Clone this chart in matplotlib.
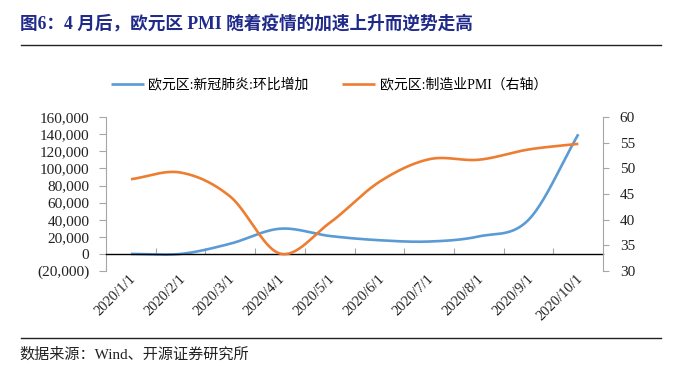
import numpy as np
import matplotlib.pyplot as plt
from matplotlib.lines import Line2D
from matplotlib.ticker import FuncFormatter

plt.rcParams['font.family'] = ['Liberation Serif', 'Noto Sans CJK SC']

# --- data ---
dates = ['2020/1/1', '2020/2/1', '2020/3/1', '2020/4/1', '2020/5/1',
         '2020/6/1', '2020/7/1', '2020/8/1', '2020/9/1', '2020/10/1']
covid_new = [0, 0, 12000, 29500, 21000, 16000, 14500, 20500, 40000, 140000]
pmi = [47.9, 49.2, 44.5, 33.4, 39.4, 47.4, 51.8, 51.7, 53.7, 54.8]

BLUE = '#5B9BD5'
ORANGE = '#ED7D31'
GRAY = '#A6A6A6'
NAVY = '#1F2A8A'


def smooth(values, n=40):
    # Excel-like smoothed line (Catmull-Rom / cubic Hermite)
    y = np.asarray(values, dtype=float)
    m = np.gradient(y)
    xs, ys = [], []
    for i in range(len(y) - 1):
        t = np.linspace(0, 1, n, endpoint=False)
        h00 = 2 * t**3 - 3 * t**2 + 1
        h10 = t**3 - 2 * t**2 + t
        h01 = -2 * t**3 + 3 * t**2
        h11 = t**3 - t**2
        xs.append(i + t)
        ys.append(h00 * y[i] + h10 * m[i] + h01 * y[i + 1] + h11 * m[i + 1])
    xs.append([len(y) - 1])
    ys.append([y[-1]])
    return np.concatenate(xs), np.concatenate(ys)


fig = plt.figure(figsize=(6.8, 3.88), dpi=100)
ax = fig.add_axes([0.156, 0.3015, 0.731, 0.3965])
ax2 = ax.twinx()

x = np.arange(len(dates))
bx, by = smooth(covid_new)
ox, oy = smooth(pmi)
ax.plot(bx, by, color=BLUE, lw=1.9, label='欧元区:新冠肺炎:环比增加', solid_capstyle='butt')
ax2.plot(ox, oy, color=ORANGE, lw=1.9, label='欧元区:制造业PMI（右轴）', solid_capstyle='butt')

# left axis
ax.set_xlim(-0.5, len(dates) - 0.5)
ax.set_ylim(-20000, 160000)
ax.set_yticks(np.arange(-20000, 160001, 20000))
ax.yaxis.set_major_formatter(FuncFormatter(
    lambda v, p: f'({abs(v):,.0f})' if v < 0 else f'{v:,.0f}'))
ax.tick_params(axis='y', direction='out', length=5, color=GRAY,
               labelsize=11, labelcolor='#222222', pad=7)

# right axis
ax2.set_ylim(30, 60)
ax2.set_yticks(np.arange(30, 61, 5))
ax2.tick_params(axis='y', direction='out', length=4, color=GRAY,
                labelsize=11, labelcolor='#222222', pad=8)

for a in (ax, ax2):
    a.spines['top'].set_visible(False)
    a.spines['left'].set_color(GRAY)
    a.spines['right'].set_color(GRAY)
    a.spines['bottom'].set_visible(False)
ax.spines['right'].set_visible(False)
ax2.spines['left'].set_visible(False)

# category axis sits at zero
ax.spines['bottom'].set_visible(True)
ax.spines['bottom'].set_position(('data', 0))
ax.spines['bottom'].set_color('black')
ax.spines['bottom'].set_linewidth(1.0)
ax.set_xticks(x[:-1] + 0.5)
ax.tick_params(axis='x', direction='in', length=4, color=GRAY, labelbottom=False)
for i, d in enumerate(dates):
    ax.text(i - 0.04, -0.005, d, transform=ax.get_xaxis_transform(),
            rotation=45, ha='right', va='top', rotation_mode='anchor',
            fontsize=10.5, color='#222222')

# legend
h1, l1 = ax.get_legend_handles_labels()
h2, l2 = ax2.get_legend_handles_labels()
fig.legend(h1 + h2, l1 + l2, loc='center left', bbox_to_anchor=(0.155, 0.781),
           ncol=2, frameon=False, fontsize=10, handlelength=2.4,
           handletextpad=0.3, columnspacing=2.4, borderaxespad=0)

# title, rules, source
fig.text(0.029, 0.94, '图6：4 月后，欧元区 PMI 随着疫情的加速上升而逆势走高',
         fontsize=12.7, fontweight='bold', color=NAVY, va='center', ha='left')
fig.add_artist(Line2D([0.031, 0.972], [0.884, 0.884], transform=fig.transFigure,
                      color='#222222', lw=1.0))
fig.add_artist(Line2D([0.031, 0.972], [0.129, 0.129], transform=fig.transFigure,
                      color='#222222', lw=1.0))
fig.text(0.029, 0.085, '数据来源：Wind、开源证券研究所', fontsize=10.9,
         color='#222222', va='center', ha='left')

fig.savefig('out.png', dpi=100)
plt.close(fig)
